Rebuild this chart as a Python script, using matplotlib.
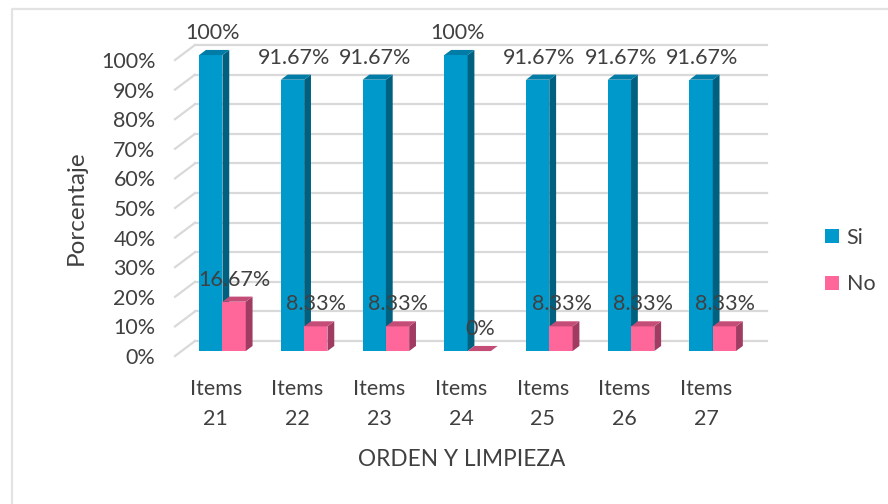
#!/usr/bin/env python3
"""Grouped pseudo-3D bars: Si / No percentages for items 21 to 27."""

import matplotlib
matplotlib.use("Agg")
import matplotlib.pyplot as plt
from matplotlib.lines import Line2D
from matplotlib.patches import Patch, Polygon

categories = ["Items\n21", "Items\n22", "Items\n23", "Items\n24", "Items\n25", "Items\n26", "Items\n27"]
si_values = [100, 91.67, 91.67, 100, 91.67, 91.67, 91.67]
no_values = [16.67, 8.33, 8.33, 0, 8.33, 8.33, 8.33]
si_labels = ["100%", "91.67%", "91.67%", "100%", "91.67%", "91.67%", "91.67%"]
no_labels = ["16.67%", "8.33%", "8.33%", "0%", "8.33%", "8.33%", "8.33%"]
y_ticks = [0, 10, 20, 30, 40, 50, 60, 70, 80, 90, 100]

W, H = 888, 504
TEXT = "#404040"
GRID = "#D9D9D9"
SI = ("#0099CC", "#006080", "#007CA6")
NO = ("#FF6699", "#A03C62", "#C44D78")

# depth of the floor, in data units (20 px across, 15 px up)
DEPTH_X = 20 / (572 / 7)
DEPTH_Y = 15 / 2.96
BAR_W = 0.285
BAR_FRONT = 0.33
BAR_BACK = 0.67
FS = 15.5

plt.rcParams["font.family"] = ["Lato", "DejaVu Sans"]
plt.rcParams["font.size"] = FS

fig = plt.figure(figsize=(W / 100, H / 100), dpi=100)
ax = fig.add_axes([175 / W, (H - 356) / H, 572 / W, 296 / H])
ax.set_xlim(-0.5, 6.5)
ax.set_ylim(0, 100)
for spine in ax.spines.values():
  spine.set_visible(False)


def pt(x, y, d):
  return (x + d * DEPTH_X, y + d * DEPTH_Y)


def draw_bar(x, value, colors):
  x2 = x + BAR_W
  front = [pt(x, 0, BAR_FRONT), pt(x2, 0, BAR_FRONT), pt(x2, value, BAR_FRONT), pt(x, value, BAR_FRONT)]
  side = [pt(x2, 0, BAR_FRONT), pt(x2, 0, BAR_BACK), pt(x2, value, BAR_BACK), pt(x2, value, BAR_FRONT)]
  top = [pt(x, value, BAR_FRONT), pt(x2, value, BAR_FRONT), pt(x2, value, BAR_BACK), pt(x, value, BAR_BACK)]
  for poly, color in zip((front, side, top), colors):
    ax.add_patch(Polygon(poly, closed=True, facecolor=color, edgecolor="none", zorder=3, clip_on=False))


def draw_label(x, value, text, shift):
  cx, cy = pt(x + BAR_W / 2, value, 0.5)
  ax.annotate(text, (cx, cy), xytext=(shift, 14), textcoords="offset points", ha="center", va="center",
              color=TEXT, fontsize=FS, zorder=5, annotation_clip=False)


# gridlines on the back wall, with the diagonal floor ticks
for tick in y_ticks:
  back_l = pt(-0.5, tick, 1)
  back_r = pt(6.5, tick, 1)
  front_l = pt(-0.5, tick, 0)
  ax.plot([back_l[0], back_r[0]], [back_l[1], back_r[1]], color=GRID, lw=1.6, zorder=1, clip_on=False)
  ax.plot([front_l[0], back_l[0]], [front_l[1], back_l[1]], color=GRID, lw=1.6, zorder=1, clip_on=False)

for i in range(len(categories)):
  draw_bar(i - BAR_W, si_values[i], SI)
  draw_bar(i, no_values[i], NO)

for i in range(len(categories)):
  draw_label(i - BAR_W, si_values[i], si_labels[i], -1.5)
  draw_label(i, no_values[i], no_labels[i], -2)

ax.set_yticks(y_ticks)
ax.set_yticklabels([f"{t}%" for t in y_ticks])
ax.set_xticks(range(len(categories)))
ax.set_xticklabels(categories, linespacing=1.6)
ax.tick_params(axis="y", length=0, pad=14, labelcolor=TEXT, labelsize=FS)
ax.tick_params(axis="x", length=0, pad=16.5, labelcolor=TEXT, labelsize=FS)

ax.set_xlabel("ORDEN Y LIMPIEZA", color=TEXT, fontsize=16.3)
ax.xaxis.set_label_coords((462 - 175) / 572, -(459 - 356) / 296, transform=ax.transAxes)
ax.xaxis.label.set_va("center")
ax.set_ylabel("Porcentaje", color=TEXT, fontsize=17.5)
ax.yaxis.set_label_coords((76 - 175) / 572, (356 - 208) / 296, transform=ax.transAxes)
ax.yaxis.label.set_va("center")

handles = [Patch(facecolor=SI[0], label="Si"), Patch(facecolor=NO[0], label="No")]
fig.legend(handles=handles, loc="center left", bbox_to_anchor=(810 / W, (H - 261) / H), frameon=False,
           handlelength=0.65, handleheight=0.65, handletextpad=0.35, labelspacing=1.25, borderpad=0.2,
           labelcolor=TEXT, fontsize=FS)

# frame of the pasted picture: left and top edges only
fig.add_artist(Line2D([12 / W, 12 / W, 1], [0, (H - 9) / H, (H - 9) / H], transform=fig.transFigure,
                      color="#E3E3E3", lw=1.6))

fig.savefig("out.png", dpi=100)
